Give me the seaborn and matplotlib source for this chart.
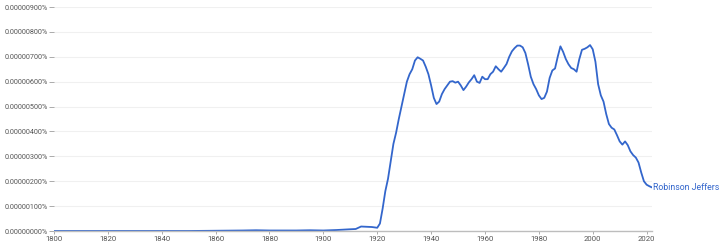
import matplotlib
matplotlib.use("Agg")
import matplotlib.pyplot as plt
import seaborn as sns
import pandas as pd

years = [1800, 1850, 1860, 1870, 1875, 1880, 1890, 1895, 1900, 1905, 1910, 1912, 1914, 1916, 1918, 1920,
         1921, 1922, 1923, 1924, 1925, 1926, 1927, 1928, 1929, 1930, 1931, 1932, 1933, 1934, 1935, 1936,
         1937, 1938, 1939, 1940, 1941, 1942, 1943, 1944, 1945, 1946, 1947, 1948, 1949, 1950, 1951, 1952,
         1953, 1954, 1955, 1956, 1957, 1958, 1959, 1960, 1961, 1962, 1963, 1964, 1965, 1966, 1967, 1968,
         1969, 1970, 1971, 1972, 1973, 1974, 1975, 1976, 1977, 1978, 1979, 1980, 1981, 1982, 1983, 1984,
         1985, 1986, 1987, 1988, 1989, 1990, 1991, 1992, 1993, 1994, 1995, 1996, 1997, 1998, 1999, 2000,
         2001, 2002, 2003, 2004, 2005, 2006, 2007, 2008, 2009, 2010, 2011, 2012, 2013, 2014, 2015, 2016,
         2017, 2018, 2019, 2020, 2021, 2022]
# values in units of 0.000001 %
values = [0.0, 0.0, 0.01, 0.02, 0.03, 0.02, 0.02, 0.03, 0.02, 0.04, 0.07, 0.08, 0.18, 0.17, 0.16, 0.13,
          0.3, 0.9, 1.6, 2.1, 2.8, 3.5, 3.95, 4.5, 5.0, 5.5, 6.0, 6.3, 6.5, 6.85, 6.98, 6.92,
          6.85, 6.6, 6.3, 5.85, 5.35, 5.1, 5.2, 5.5, 5.7, 5.85, 6.0, 6.02, 5.96, 6.0, 5.85, 5.66,
          5.8, 5.97, 6.1, 6.26, 6.0, 5.95, 6.2, 6.1, 6.1, 6.3, 6.4, 6.62, 6.5, 6.4, 6.55, 6.71,
          7.0, 7.22, 7.35, 7.45, 7.45, 7.38, 7.15, 6.7, 6.2, 5.9, 5.7, 5.45, 5.3, 5.35, 5.6, 6.15,
          6.45, 6.53, 7.0, 7.42, 7.2, 6.91, 6.7, 6.55, 6.5, 6.4, 6.9, 7.28, 7.32, 7.38, 7.47, 7.3,
          6.8, 5.9, 5.45, 5.2, 4.7, 4.3, 4.15, 4.08, 3.85, 3.6, 3.47, 3.6, 3.45, 3.2, 3.05, 2.95,
          2.75, 2.35, 2.0, 1.86, 1.8, 1.75]
series_name = "Robinson Jeffers"
x_ticks = [1800, 1820, 1840, 1860, 1880, 1900, 1920, 1940, 1960, 1980, 2000, 2020]
y_ticks = [0, 1, 2, 3, 4, 5, 6, 7, 8, 9]

sns.set_theme(style="white")
plt.rcParams['font.family'] = ['Roboto', 'DejaVu Sans']

df = pd.DataFrame({"year": years, "value": values})
line_color = "#3366cc"

fig = plt.figure(figsize=(7.2, 2.45), dpi=100)
ax = fig.add_axes([54 / 720, 1 - 231 / 245, (652 - 54) / 720, (231 - 7) / 245])
sns.lineplot(data=df, x="year", y="value", ax=ax, color=line_color, linewidth=1.3)

ax.set_xlim(1800, 2022)
ax.set_ylim(0, 9.0)
ax.set_xticks(x_ticks)
ax.set_xticklabels([str(t) for t in x_ticks])
ax.set_yticks(y_ticks)
ax.set_yticklabels([f"{v * 1e-6:.8f}%" for v in y_ticks])
ax.set_xlabel("")
ax.set_ylabel("")

for s in ["top", "right", "left"]:
    ax.spines[s].set_visible(False)
ax.spines["bottom"].set_color("#bdbdbd")
ax.spines["bottom"].set_linewidth(1.0)
ax.yaxis.grid(True, color="#f0f0f0", linewidth=0.8)
ax.xaxis.grid(False)
ax.tick_params(axis="y", length=3.5, width=0.6, color="#9e9e9e", labelsize=5.2, labelcolor="#555555", pad=1, left=True)
ax.tick_params(axis="x", length=2.5, width=0.6, color="#9e9e9e", labelsize=5.6, labelcolor="#555555", pad=1, bottom=True)

ax.text(2022.5, values[-1], series_name, color=line_color, fontsize=6.3, va="center", ha="left", clip_on=False)

fig.savefig("out.png", dpi=100)
